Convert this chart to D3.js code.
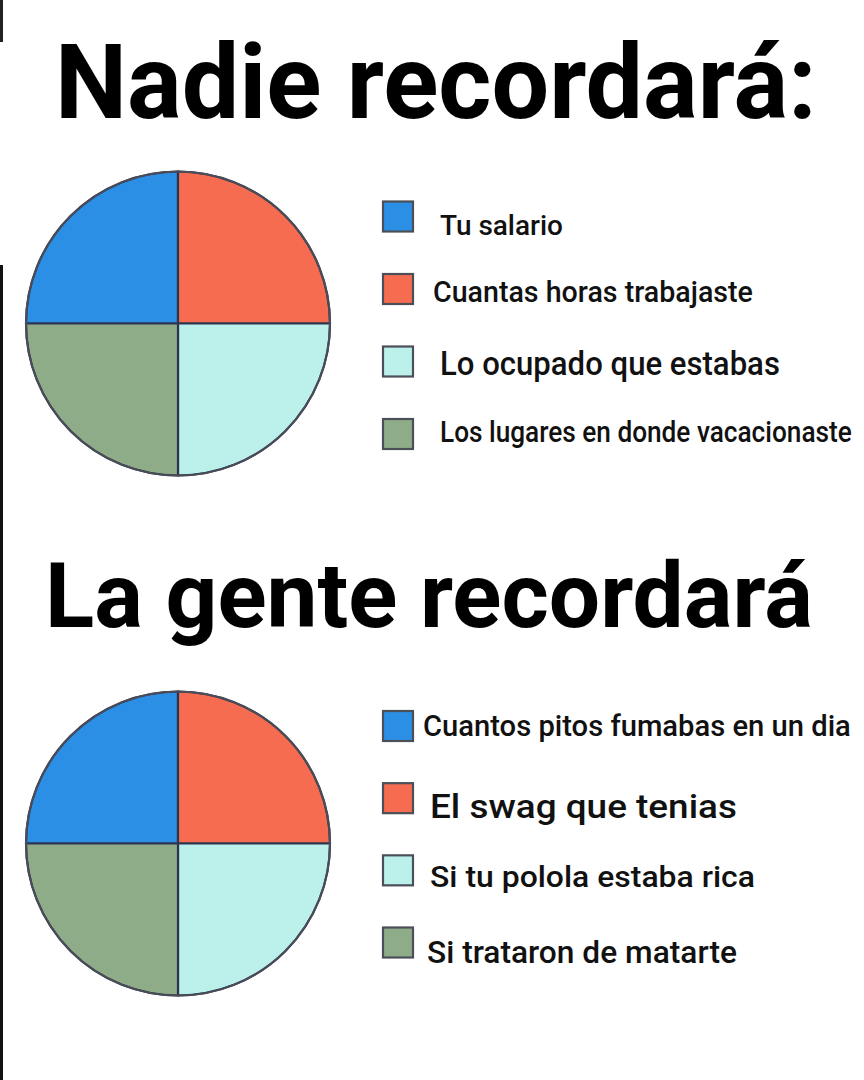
<!DOCTYPE html>
<html>
<head>
<meta charset="utf-8">
<script src="https://cdn.jsdelivr.net/npm/d3@7"></script>
<style>
  html, body { margin: 0; padding: 0; background: #ffffff; }
  svg { display: block; }
  text { font-family: Roboto, "Noto Sans", sans-serif; }
</style>
</head>
<body>
<svg id="chart" width="864" height="1080"></svg>
<script>
// ---------- data ----------
const titles = ["Nadie recordará:", "La gente recordará"];
const categoriesTop = ["Tu salario", "Cuantas horas trabajaste", "Lo ocupado que estabas", "Los lugares en donde vacacionaste"];
const categoriesBottom = ["Cuantos pitos fumabas en un dia", "El swag que tenias", "Si tu polola estaba rica", "Si trataron de matarte"];
const valuesTop = [25, 25, 25, 25];
const valuesBottom = [25, 25, 25, 25];
const sliceColors = ["#2b8fe6", "#f56c50", "#bcf0eb", "#8fac89"];

// ---------- layout / style (kept separate from data) ----------
const W = 864, H = 1080;
const panels = [
  { title: titles[0], cats: categoriesTop, vals: valuesTop,
    titleX: 55, titleBase: 118, titleSize: 104, titleLen: 762,
    cx: 178, cy: 323.5, r: 152,
    rowTop: 216.5, rowBottom: 434,
    textX: [440, 433, 440, 440], textDy: [18.5, 13, 13.5, 8],
    textSize: [28, 29, 33, 29], textLen: [123, 320, 340, 412] },
  { title: titles[1], cats: categoriesBottom, vals: valuesBottom,
    titleX: 45, titleBase: 627, titleSize: 90, titleLen: 768,
    cx: 178, cy: 843.5, r: 152,
    rowTop: 726, rowBottom: 942.5,
    textX: [423, 430, 430, 427], textDy: [10, 19.5, 17, 20.5],
    textSize: [29, 34, 30, 31], textLen: [428, 307, 325, 310] }
];

const svg = d3.select("#chart");
svg.append("rect").attr("width", W).attr("height", H).attr("fill", "#ffffff");

// screenshot edge artifacts
svg.append("rect").attr("x", 0).attr("y", 265).attr("width", 3).attr("height", H - 265).attr("fill", "#111");
svg.append("rect").attr("x", 0).attr("y", 0).attr("width", 3).attr("height", 42).attr("fill", "#222");

// place a text at (x, baseline) and horizontally scale it to a target width
function fitText(sel, x, y, targetLen) {
  sel.attr("x", 0).attr("y", 0);
  const w = sel.node().getComputedTextLength();
  const sx = w > 0 ? targetLen / w : 1;
  sel.attr("transform", `translate(${x},${y}) scale(${sx},1)`);
}

const pie = d3.pie().sort(null).startAngle(-Math.PI / 2).endAngle(1.5 * Math.PI);
const color = d3.scaleOrdinal().range(sliceColors);

panels.forEach(p => {
  color.domain(p.cats);
  // title
  const t = svg.append("text")
    .attr("font-size", p.titleSize).attr("font-weight", 700)
    .attr("fill", "#000")
    .text(p.title);
  fitText(t, p.titleX, p.titleBase, p.titleLen);

  // pie
  const arc = d3.arc().innerRadius(0).outerRadius(p.r);
  const data = p.cats.map((c, i) => ({ cat: c, val: p.vals[i] }));
  const g = svg.append("g").attr("transform", `translate(${p.cx},${p.cy})`);
  g.selectAll("path").data(pie.value(d => d.val)(data)).join("path")
    .attr("d", arc)
    .attr("fill", d => color(d.data.cat))
    .attr("stroke", "#2c3450").attr("stroke-width", 2.2)
    .attr("stroke-linejoin", "round");
  g.append("circle").attr("r", p.r).attr("fill", "none")
    .attr("stroke", "#4a4c58").attr("stroke-width", 2);

  // legend
  const rowY = d3.scalePoint().domain(d3.range(p.cats.length)).range([p.rowTop, p.rowBottom]);
  const lg = svg.append("g");
  const items = lg.selectAll("g").data(data).join("g");
  items.append("rect")
    .attr("x", 383).attr("y", (d, i) => rowY(i) - 15)
    .attr("width", 30).attr("height", 30)
    .attr("fill", d => color(d.cat))
    .attr("stroke", "#4b4f58").attr("stroke-width", 2.2);
  items.append("text")
    .attr("font-size", (d, i) => p.textSize[i])
    .attr("font-weight", 500)
    .attr("fill", "#111")
    .text(d => d.cat)
    .each(function (d, i) {
      fitText(d3.select(this), p.textX[i], rowY(i) + p.textDy[i], p.textLen[i]);
    });
});
</script>
</body>
</html>
